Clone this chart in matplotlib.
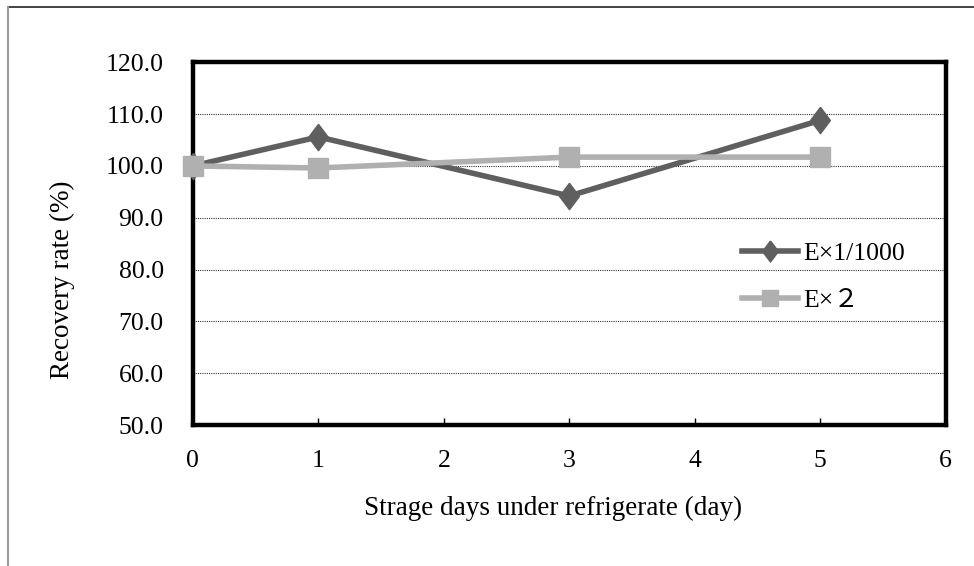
import matplotlib
matplotlib.use('Agg')
import matplotlib.pyplot as plt
from matplotlib.lines import Line2D

days = [0, 1, 3, 5]
rate_1000 = [100.0, 105.6, 94.2, 108.8]
rate_x2 = [100.0, 99.6, 101.7, 101.7]
labels = ['E×1/1000', 'E×２']

plt.rcParams['font.family'] = ['Liberation Serif', 'Noto Sans CJK JP']
plt.rcParams['font.size'] = 18.5

fig = plt.figure(figsize=(9.74, 5.66), dpi=100)
ax = fig.add_axes([0.198, 0.249, 0.773, 0.641])

# slightly tall diamond like the original
diamond = [(0, 1), (0.75, 0), (0, -1), (-0.75, 0), (0, 1)]
ax.plot(days, rate_1000, color='#5f5f5f', lw=4, marker=diamond, ms=19,
        label=labels[0], zorder=5, clip_on=False)
ax.plot(days, rate_x2, color='#b0b0b0', lw=4, marker='s', ms=14,
        label=labels[1], zorder=6, clip_on=False)

ax.set_xlim(0, 6)
ax.set_ylim(50, 120)
ax.set_xticks(range(0, 7))
ax.set_yticks(range(50, 121, 10))
ax.set_yticklabels(['%.1f' % v for v in range(50, 121, 10)])
ax.yaxis.grid(True, color='#333333', ls=(0, (1, 1)), lw=0.8)
ax.set_axisbelow(True)
for s in ax.spines.values():
    s.set_linewidth(3.2)
ax.tick_params(axis='x', direction='in', length=5, width=1, pad=18)
ax.tick_params(axis='y', length=0, pad=21)

ax.set_xlabel('Strage days under refrigerate (day)', fontsize=19.5)
ax.set_ylabel('Recovery rate (%)', fontsize=19.5)
ax.xaxis.set_label_coords(0.478, -0.195)
ax.yaxis.set_label_coords(-0.156, 0.40)

ax.legend(loc='center left', bbox_to_anchor=(0.730, 0.408), frameon=False,
          handlelength=2.15, handletextpad=0.2, labelspacing=0.9,
          borderpad=0, borderaxespad=0, markerscale=0.8)

# outer frame lines
fig.add_artist(Line2D([0.008, 1.0], [0.988, 0.988], color='#222222', lw=1.2))
fig.add_artist(Line2D([0.008, 0.008], [0.0, 0.988], color='#999999', lw=1.5))

fig.savefig('out.png', dpi=100)
